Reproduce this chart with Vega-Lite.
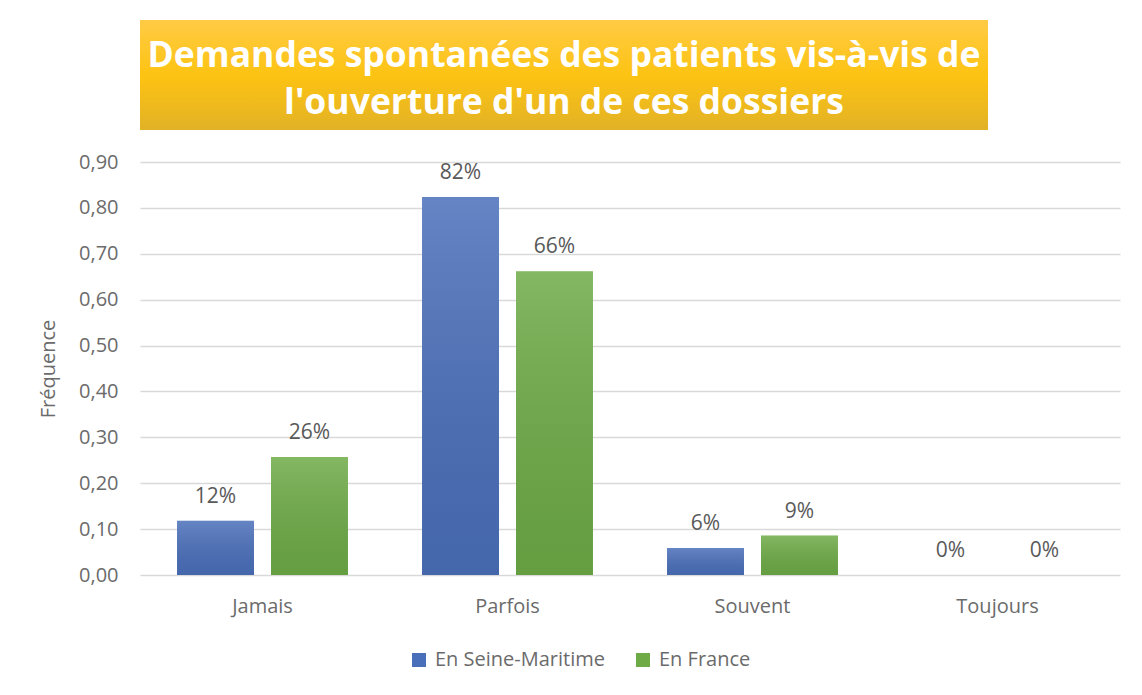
{
  "$schema": "https://vega.github.io/schema/vega-lite/v6.json",
  "background": "white",
  "padding": {"left": 38, "top": 20, "right": 20, "bottom": 10},
  "config": {
    "font": "Open Sans",
    "view": {"stroke": null}
  },
  "bounds": "flush",
  "spacing": 32,
  "vconcat": [
    {
      "width": 848,
      "height": 110,
      "data": {"values": [{"titre": "Demandes spontanées des patients vis-à-vis de\nl'ouverture d'un de ces dossiers"}]},
      "layer": [
        {
          "mark": {"type": "rect", "color": "#000000", "opacity": 0.3, "yOffset": 5, "y2Offset": 5},
          "encoding": {}
        },
        {
          "mark": {
            "type": "rect",
            "color": {
              "gradient": "linear", "x1": 0, "y1": 0, "x2": 0, "y2": 1,
              "stops": [
                {"offset": 0, "color": "#ffcb45"},
                {"offset": 0.5, "color": "#fdc312"},
                {"offset": 1, "color": "#e2b226"}
              ]
            }
          },
          "encoding": {}
        },
        {
          "mark": {"type": "text", "align": "center", "baseline": "middle", "lineBreak": "\n", "lineHeight": 47, "fontSize": 35.5, "fontWeight": "bold", "color": "white", "dy": -19},
          "encoding": {"text": {"field": "titre", "type": "nominal"}}
        }
      ]
    },
    {
      "width": 980,
      "height": 413,
      "data": {"values": [
        {"reponse": "Jamais", "zone": "En Seine-Maritime", "frequence": 0.118},
        {"reponse": "Jamais", "zone": "En France", "frequence": 0.257},
        {"reponse": "Parfois", "zone": "En Seine-Maritime", "frequence": 0.824},
        {"reponse": "Parfois", "zone": "En France", "frequence": 0.662},
        {"reponse": "Souvent", "zone": "En Seine-Maritime", "frequence": 0.059},
        {"reponse": "Souvent", "zone": "En France", "frequence": 0.086},
        {"reponse": "Toujours", "zone": "En Seine-Maritime", "frequence": 0},
        {"reponse": "Toujours", "zone": "En France", "frequence": 0}
      ]},
      "encoding": {
        "x": {
          "field": "reponse", "type": "nominal", "sort": ["Jamais", "Parfois", "Souvent", "Toujours"],
          "scale": {"paddingInner": 0, "paddingOuter": 0},
          "axis": {"title": null, "labelAngle": 0, "labelFontSize": 20, "labelColor": "#6b6b6b", "labelPadding": 21, "ticks": false, "domain": false, "grid": false}
        },
        "xOffset": {
          "field": "zone", "type": "nominal", "sort": ["En Seine-Maritime", "En France"],
          "scale": {"paddingInner": 0.181, "paddingOuter": 0.394}
        },
        "y": {
          "field": "frequence", "type": "quantitative",
          "scale": {"domain": [0, 0.9]},
          "axis": {
            "title": "Fréquence", "titleFontSize": 20, "titleFontWeight": "normal", "titleColor": "#6b6b6b", "titlePadding": 20,
            "values": [0, 0.1, 0.2, 0.3, 0.4, 0.5, 0.6, 0.7, 0.8, 0.9],
            "labelExpr": "replace(format(datum.value, '.2f'), '.', ',')",
            "labelFontSize": 20, "labelColor": "#6b6b6b", "labelPadding": 22,
            "ticks": false, "domain": false,
            "gridColor": "#d9d9d9", "gridWidth": 1.5
          }
        }
      },
      "layer": [
        {
          "mark": {"type": "bar"},
          "encoding": {
            "color": {
              "field": "zone", "type": "nominal", "sort": ["En Seine-Maritime", "En France"],
              "scale": {"domain": ["En Seine-Maritime", "En France"], "range": ["#4a6fba", "#6eab47"]},
              "legend": {
                "title": null, "orient": "none", "direction": "horizontal",
                "legendX": 269, "legendY": 630,
                "symbolType": "square", "symbolSize": 196, "symbolStrokeWidth": 0,
                "labelFontSize": 20, "labelColor": "#6b6b6b", "labelOffset": 6, "labelLimit": 400,
                "columnPadding": 28
              }
            }
          }
        },
        {
          "mark": {
            "type": "bar",
            "color": {
              "gradient": "linear", "x1": 0, "y1": 0, "x2": 0, "y2": 1,
              "stops": [
                {"offset": 0, "color": "rgba(255,255,255,0.15)"},
                {"offset": 1, "color": "rgba(0,0,0,0.08)"}
              ]
            }
          }
        },
        {
          "mark": {"type": "text", "baseline": "bottom", "dy": -14, "fontSize": 21, "color": "#595959"},
          "encoding": {
            "text": {"field": "frequence", "type": "quantitative", "format": ".0%"}
          }
        }
      ]
    }
  ]
}
